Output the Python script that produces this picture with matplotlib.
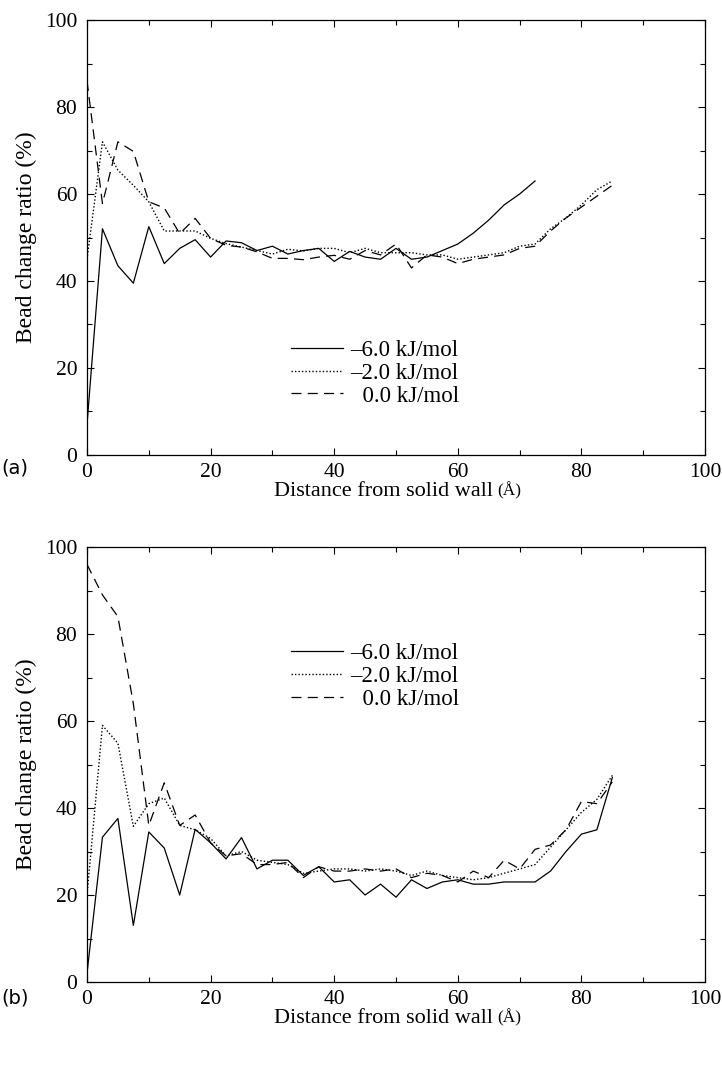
import numpy as np
import matplotlib
matplotlib.use('Agg')
import matplotlib.pyplot as plt
from matplotlib.ticker import MultipleLocator

plt.rcParams['font.family'] = ['Liberation Serif', 'DejaVu Serif']

# distance from wall (Angstrom), one point every 2.5 A
dist_a_solid = np.arange(0, 72.6, 2.5)
dist_full = np.arange(0, 85.1, 2.5)

# (a) bead change ratio (%)
a_m6 = [7, 52, 43.5, 39.5, 52.5, 44, 47.5, 49.5, 45.5, 49.2, 48.8, 47, 48, 46.2,
        47, 47.5, 44.5, 46.8, 45.5, 45, 47.5, 45, 45.5, 47, 48.5, 51, 54, 57.5,
        60, 63]
a_m2 = [45, 72, 65.5, 62, 58.2, 51.5, 51.5, 51.5, 49.8, 48.6, 47.8, 47, 46.2,
        47.3, 46.9, 47.5, 47.5, 46.5, 47.5, 46.5, 46.5, 46.5, 46, 46, 45, 45.5,
        46, 46.5, 48, 48.5, 52, 54.5, 57.5, 61, 63]
a_0 = [86, 57.8, 72, 69.8, 58.2, 56.8, 50.9, 54.4, 49.8, 48.2, 47.8, 46.7, 45.2,
       45.2, 44.9, 45.5, 45.9, 45, 47, 46, 48.5, 43, 46, 45.5, 44, 45, 45.5,
       46, 47.5, 48, 51.5, 54.5, 57, 59.5, 62]

# (b) bead change ratio (%)
b_m6 = [2, 33.3, 37.6, 13, 34.5, 30.8, 20, 35.1, 32, 28.3, 33.2, 26, 28, 28,
        24.5, 26.5, 23, 23.5, 20, 22.5, 19.5, 23.5, 21.5, 23, 23.5, 22.5, 22.5,
        23, 23, 23, 25.5, 30, 34, 35, 47]
b_m2 = [20, 59, 54.9, 35.8, 41, 42.3, 36, 35, 33, 29, 30, 28, 27.5, 27, 25,
        25.5, 26, 26, 25.5, 26, 25.5, 24.5, 25.5, 24.5, 24, 23.5, 24, 25, 26,
        27, 31, 35, 39, 42, 47.5]
b_0 = [96, 89, 84, 64, 36, 45.8, 36, 38.4, 32, 29, 29.5, 27, 27, 27.5, 24,
       26.5, 25.5, 25.5, 26, 25.5, 26, 24, 25, 24.5, 23, 25.5, 24, 28, 26,
       30.5, 31.5, 35, 41.5, 41, 46]

labels = ['\u20136.0 kJ/mol', '\u20132.0 kJ/mol', '  0.0 kJ/mol']

fig = plt.figure(figsize=(7.22, 10.66), dpi=100)
ax_a = fig.add_axes([0.1205, 0.5732, 0.856, 0.408])
ax_b = fig.add_axes([0.1205, 0.0788, 0.856, 0.408])


def draw(ax, m6, m2, z, x6, leg_y, letter, letter_y):
    ax.plot(x6, m6, '-', color='black', lw=0.9, label=labels[0])
    ax.plot(dist_full, m2, color='black', lw=1.0, ls=(0, (1, 1.5)),
            label=labels[1])
    ax.plot(dist_full, z, color='black', lw=0.9, ls=(0, (8, 5)),
            label=labels[2])
    ax.set_xlim(0, 100)
    ax.set_ylim(0, 100)
    ax.xaxis.set_major_locator(MultipleLocator(20))
    ax.xaxis.set_minor_locator(MultipleLocator(10))
    ax.yaxis.set_major_locator(MultipleLocator(20))
    ax.yaxis.set_minor_locator(MultipleLocator(10))
    ax.tick_params(which='both', direction='in', top=True, right=True,
                   labelsize=15.5, width=0.8)
    ax.tick_params(axis='x', pad=6)
    ax.tick_params(axis='y', pad=7)
    ax.tick_params(which='major', length=5)
    ax.tick_params(which='minor', length=3.5)
    for s in ax.spines.values():
        s.set_linewidth(0.9)
    # x label with a smaller unit part, as in the original
    ax.set_xlabel('Distance from solid wall', fontsize=16, labelpad=0)
    ax.xaxis.set_label_coords(0.48, -0.062)
    ax.xaxis.label.set_va('top')
    ax.annotate('(\u00c5)', xy=(1, 0.1), xycoords=ax.xaxis.label,
                xytext=(3, 0), textcoords='offset points', fontsize=12.5,
                va='bottom', ha='left')
    ax.set_ylabel('Bead change ratio (%)', fontsize=17, labelpad=6)
    ax.legend(loc='upper left', bbox_to_anchor=(0.33, leg_y), frameon=False,
              fontsize=16.5, handlelength=2.25, handletextpad=0.35,
              labelspacing=0.08, borderpad=0, borderaxespad=0)
    fig.text(0.002, letter_y, letter, fontsize=14, family=['DejaVu Sans'],
             va='center', ha='left')


draw(ax_a, a_m6, a_m2, a_0, dist_a_solid, 0.265, '(a)', 1 - 468 / 1066)
draw(ax_b, b_m6, b_m2, b_0, dist_full, 0.78, '(b)', 1 - 998 / 1066)

fig.savefig('out.png', dpi=100)
